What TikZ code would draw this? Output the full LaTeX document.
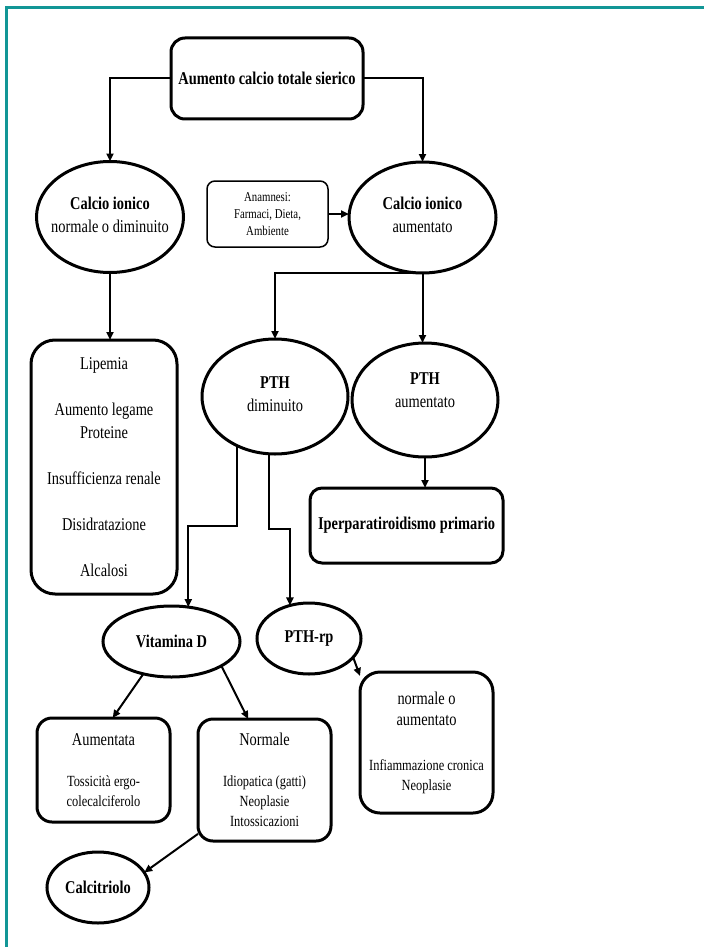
\documentclass[tikz,border=0pt]{standalone}
\usepackage{fontspec}
\setmainfont{Liberation Serif}[FakeStretch=0.8]
\usetikzlibrary{shapes.geometric,arrows.meta}
\definecolor{frameteal}{RGB}{18,150,150}
\newcommand{\detailsize}{\fontsize{15.5}{20}\selectfont}

\begin{document}
\begin{tikzpicture}[x=10pt, y=10pt,
		every node/.style={font=\fontsize{18}{21}\selectfont, align=center, inner sep=0pt, outer sep=0pt},
		roundbox/.style={rectangle, draw=black, line width=3pt, rounded corners=15pt},
		oval/.style={ellipse, draw=black, line width=3pt},
		ovaltext/.style={font=\fontsize{18}{23}\selectfont},
		link/.style={draw=black, line width=2pt, -{Triangle[length=8pt,width=7pt]}}]
			\useasboundingbox (0,0) rectangle (70.4,-94.7);
			\draw[frameteal, line width=3pt] (0.62,-94.7) -- (0.62,-0.75) -- (70.4,-0.75);

			\node[roundbox, rounded corners=14pt, minimum width=192pt, minimum height=81pt] (total) at (26.7,-7.85) {\raisebox{-1.5pt}{\textbf{Aumento calcio totale sierico}}};

			\node[oval, minimum width=147pt, minimum height=111pt] (ionN) at (11.0,-21.7) {};
			\node[ovaltext] (ionNtext) at (11.0,-21.45) {\textbf{Calcio ionico}\\normale o diminuito};
			\node[roundbox, line width=1.5pt, rounded corners=8pt, minimum width=121pt, minimum height=66pt, font=\fontsize{13.5}{17}\selectfont] (anam) at (26.75,-21.4) {Anamnesi:\\Farmaci, Dieta,\\Ambiente};
			\node[oval, minimum width=147pt, minimum height=111pt] (ionA) at (42.25,-21.75) {};
			\node[ovaltext] (ionAtext) at (42.25,-21.45) {\textbf{Calcio ionico}\\aumentato};

			\node[roundbox, rounded corners=24pt, minimum width=146pt, minimum height=254pt, font=\fontsize{18}{23}\selectfont] (cause) at (10.4,-46.7) {Lipemia\\[23pt]Aumento legame\\Proteine\\[23pt]Insufficienza renale\\[23pt]Disidratazione\\[23pt]Alcalosi};
			\node[oval, minimum width=146pt, minimum height=115pt] (pthD) at (27.5,-39.65) {};
			\node[ovaltext] (pthDtext) at (27.5,-39.45) {\textbf{PTH}\\diminuito};
			\node[oval, minimum width=146pt, minimum height=114pt] (pthA) at (42.5,-40.0) {};
			\node[ovaltext] (pthAtext) at (42.5,-39.0) {\textbf{PTH}\\aumentato};
			\node[roundbox, rounded corners=12pt, minimum width=193pt, minimum height=75pt] (iper) at (40.65,-52.55) {\raisebox{-3pt}{\textbf{Iperparatiroidismo primario}}};

			\node[oval, minimum width=137pt, minimum height=71pt] (vitD) at (17.15,-64.15) {\textbf{Vitamina D}};
			\node[oval, minimum width=104pt, minimum height=71pt] (pthrp) at (30.9,-63.85) {\textbf{PTH-rp}};
			\node[roundbox, rounded corners=20pt, minimum width=133pt, minimum height=141pt] (pthrpRes) at (42.65,-74.25) {normale o\\aumentato\\[24pt]\detailsize Infiammazione cronica\\[-1pt]\detailsize Neoplasie};
			\node[roundbox, minimum width=133pt, minimum height=104pt] (vitUp) at (10.35,-77.0) {Aumentata\\[20pt]\detailsize Tossicità ergo-\\[-1pt]\detailsize colecalciferolo};
			\node[roundbox, minimum width=133pt, minimum height=122pt] (vitNorm) at (26.45,-78.0) {Normale\\[20pt]\detailsize Idiopatica (gatti)\\[-1pt]\detailsize Neoplasie\\[-1pt]\detailsize Intossicazioni};
			\node[oval, minimum width=102pt, minimum height=71pt] (calc) at (9.8,-88.75) {\textbf{Calcitriolo}};

			% connectors
			\draw[link] (total.west) -| (ionN.north);
			\draw[link] (total.east) -| (ionA.north);
			\draw[link] (anam.east) -- (anam.east -| ionA.west);
			\draw[link] (ionN.south) -- (ionN.south |- cause.north);
			\draw[link] (ionA.south) -| (pthD.north);
			\draw[link] (ionA.south) -- (ionA.south |- pthA.north);
			\draw[link] (pthA.south) -- (pthA.south |- iper.north);
			\draw[link] (pthD.-128) -- ++(0,-8.05) -| (vitD.64);
			\draw[link] (pthD.-96) -- ++(0,-7.5) -| (pthrp.120);
			\draw[link] (vitD.-131) -- (vitUp.80);
			\draw[link] (vitD.-26) -- (vitNorm.105);
			\draw[link] (pthrp.-23) -- (pthrpRes.135);
			\draw[link] (vitNorm.-141) -- (calc.18);
		\end{tikzpicture}
\end{document}
